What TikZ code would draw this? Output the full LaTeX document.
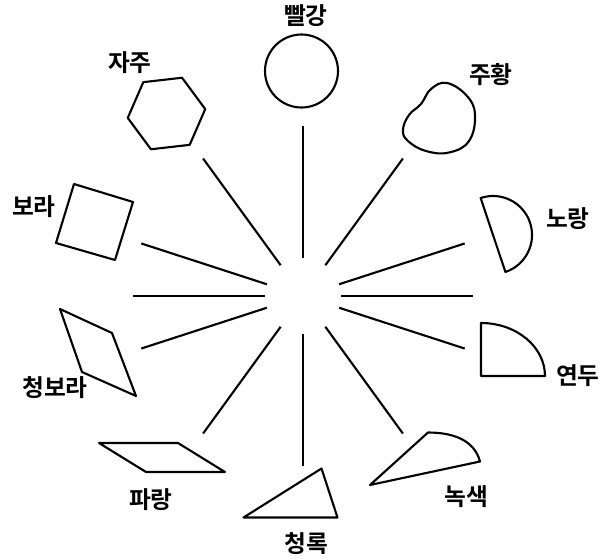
\documentclass[tikz,border=0pt]{standalone}
\usepackage{fontspec}
\usepackage{tikz}
\usetikzlibrary{calc}
\newfontfamily\krfont{Noto Sans CJK KR}[BoldFont={Noto Sans CJK KR Bold}]
\tikzset{ray/.style={line width=1.2pt},
 shp/.style={line width=1.2pt,line join=round},
 lbl/.style={font=\krfont\bfseries\fontsize{13.5}{16}\selectfont,inner sep=0pt}}

\begin{document}
\begin{tikzpicture}
\useasboundingbox (-6.06,-5.24) rectangle (6.0,5.92);
\coordinate (c) at (0,0);
% twelve rays round the centre
\foreach \a in {0,18,54,90,126,162,180,198,234,270,306,342}
 \draw[ray] ([shift={(\a:.76)}]c)--([shift={(\a:3.4)}]c);
% shapes
\draw[shp] (-.03,4.5) circle (.73);
\draw[shp] (-2.73,3.65) +(6.5:.78)--+(66.5:.78)--+(126.5:.78)--+(186.5:.78)
 --+(246.5:.78)--+(306.5:.78)--cycle;
\draw[shp] plot[smooth cycle,tension=.7] coordinates{(2.00,3.32)(2.12,3.62)
 (2.36,3.84)(2.56,4.14)(2.88,4.26)(3.28,4.00)(3.44,3.62)(3.32,3.10)(2.92,2.87)
 (2.46,2.90)(2.10,3.10)};
\draw[shp] (3.553,1.96) arc[start angle=108.5,end angle=-71.5,radius=.78]--cycle;
\draw[shp] (3.56,-1.60)--++(0,1.06) arc[start angle=90,end angle=0,
 x radius=1.28,y radius=1.06]--cycle;
\draw[shp] (1.34,-3.78)--(2.50,-2.73) to[out=0,in=105] (3.54,-3.31)--cycle;
\draw[shp] (-1.19,-4.43)--(.37,-3.45)--(.69,-4.43)--cycle;
\draw[shp] (-4.08,-2.94)--(-2.50,-2.94)--(-1.56,-3.52)--(-3.14,-3.52)--cycle;
\draw[shp] (-4.86,-.26)--(-3.82,-.74)--(-3.34,-2.00)--(-4.42,-1.52)--cycle;
\draw[shp] (-4.58,2.24)--(-3.40,1.88)--(-3.76,.72)--(-4.94,1.06)--cycle;
% labels
\node[lbl] (red) at (.06,5.6) {빨강};
\node[lbl] (orange) at (3.76,4.42) {주황};
\node[lbl] (yellow) at (5.30,1.54) {노랑};
\node[lbl] (lime) at (5.50,-1.60) {연두};
\node[lbl] (green) at (3.27,-4.01) {녹색};
\node[lbl] (teal) at (.07,-4.95) {청록};
\node[lbl] (blue) at (-3.04,-4.08) {파랑};
\node[lbl] (indigo) at (-4.96,-1.83) {청보라};
\node[lbl] (purple) at (-5.38,1.78) {보라};
\node[lbl] (magenta) at (-3.46,4.66) {자주};
\end{tikzpicture}
\end{document}
